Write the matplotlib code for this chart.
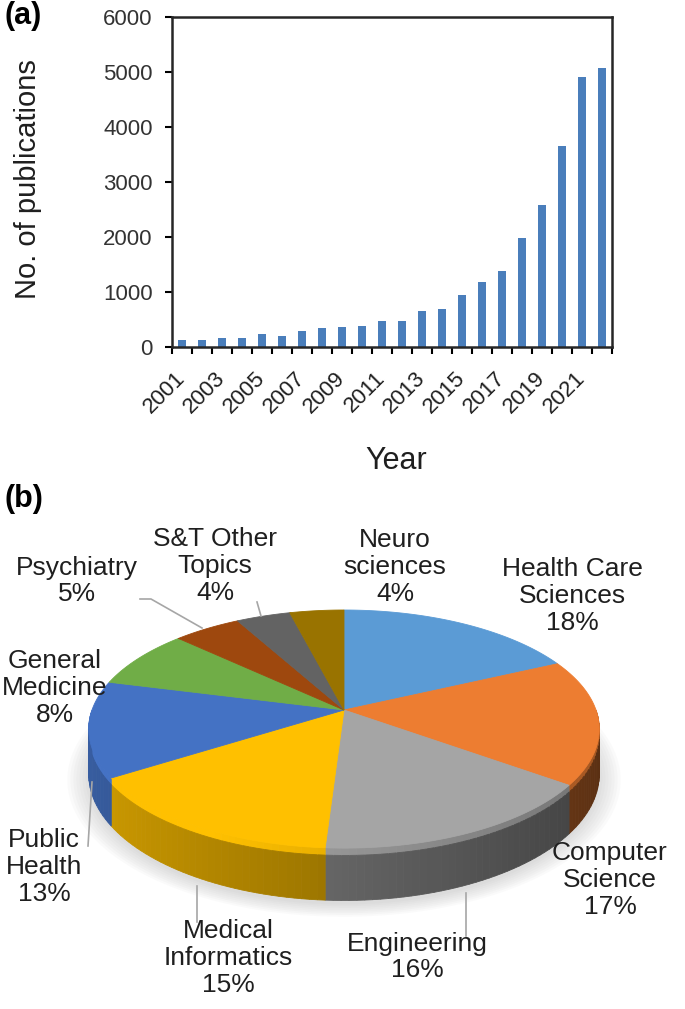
"""
Publications per year (a) and share of research areas (b)
"""
import numpy as np
import matplotlib
matplotlib.use('Agg')
import matplotlib.pyplot as plt
from matplotlib.colors import to_rgb
from matplotlib.patches import Polygon

plt.rcParams['font.family'] = ['Liberation Sans', 'DejaVu Sans']

# ============================================================
# data
# ============================================================
years = list(range(2001, 2023))
pubs = [120, 120, 155, 155, 235, 205, 300, 340, 355, 380, 465, 465,
        650, 700, 945, 1180, 1390, 1985, 2585, 3655, 4905, 5070]

fields = ['Health Care\nSciences', 'Computer\nScience', 'Engineering',
          'Medical\nInformatics', 'Public\nHealth', 'General\nMedicine',
          'Psychiatry', 'S&T Other\nTopics', 'Neuro\nsciences']
shares = [18, 17, 16, 15, 13, 8, 5, 4, 4]
slice_colors = ['#5B9BD5', '#ED7D31', '#A5A5A5', '#FFC000', '#4472C4',
                '#70AD47', '#9E480E', '#636363', '#997300']

W, H = 685, 1009
fig = plt.figure(figsize=(W / 100, H / 100), dpi=100)
txt = '#1f1f1f'
tick_txt = '#333333'

# ============================================================
# (a) bar chart
# ============================================================
ax = fig.add_axes([172 / W, 1 - 347 / H, 440 / W, 330 / H])
x = np.arange(len(years))
ax.bar(x, pubs, width=0.42, color='#4A7EBB')
ax.set_xlim(-0.5, len(years) - 0.5)
ax.set_ylim(0, 6000)
ax.set_yticks(range(0, 6001, 1000))
ax.tick_params(axis='y', length=5, width=1.5, direction='out',
               labelsize=16, labelcolor=tick_txt, pad=9)
ax.set_xticks(np.arange(-0.5, len(years), 1))
ax.tick_params(axis='x', which='major', length=5, width=1.5,
               direction='out', labelbottom=False)
ax.set_xticks(x[::2], labels=[str(y) for y in years[::2]], minor=True)
ax.tick_params(axis='x', which='minor', length=0, labelsize=16,
               labelcolor=txt, pad=20)
for lab in ax.get_xticklabels(minor=True):
    lab.set_rotation(45)
    lab.set_ha('right')
    lab.set_va('center')
    lab.set_rotation_mode('anchor')
for s in ax.spines.values():
    s.set_linewidth(1.8)
    s.set_color('#262626')
ax.set_ylabel('No. of publications', fontsize=21, color=txt)
ax.yaxis.set_label_coords(-0.295, 0.51)
ax.set_xlabel('Year', fontsize=22, color=txt)
ax.xaxis.set_label_coords(0.51, -0.30)
fig.text(4 / W, 1 - 1 / H, '(a)', fontsize=22, fontweight='bold',
         va='top', ha='left')
fig.text(4 / W, 1 - 484 / H, '(b)', fontsize=22, fontweight='bold',
         va='top', ha='left')

# ============================================================
# (b) 3D-look pie, drawn in pixel coordinates
# ============================================================
ax2 = fig.add_axes([0, 0, 1, 529 / H])
ax2.set_xlim(0, W)
ax2.set_ylim(H, 480)
ax2.axis('off')

CX, CY, R, RY, K, TH = 344, 710, 252, 116, 0.16, 44


def proj(t_deg, z=0.0):
    t = np.radians(t_deg)
    u, v = np.cos(t), np.sin(t)
    f = 1 / (1 + K * v)
    return CX + R * u * f, CY - RY * v * f + TH * f * z


# soft shadow under the pie
tt = np.linspace(0, 360, 200)
bx, by = proj(tt, 1.0)
for i in range(8):
    s = 1 + 0.012 * i
    pts = np.column_stack([CX + (bx - CX) * s, CY + TH + 4 + (by - CY - TH) * s])
    ax2.add_patch(Polygon(pts, closed=True, color='#808080', alpha=0.035,
                          lw=0, zorder=1))

frac = np.array(shares) / sum(shares)
bounds = 90 - 360 * np.concatenate([[0], np.cumsum(frac)])

# side walls (front half only)
for i, c in enumerate(slice_colors):
    hi = min(bounds[i], 0)
    lo = max(bounds[i + 1], -180)
    if hi <= lo:
        continue
    base = np.array(to_rgb(c))
    ts = np.linspace(hi, lo, max(2, int((hi - lo) / 1.5) + 1))
    for t1, t2 in zip(ts[:-1], ts[1:]):
        u = np.cos(np.radians((t1 + t2) / 2))
        fac = 0.6 - 0.22 * u
        for z0, z1, ff in [(0, 0.14, min(1.0, fac + 0.3)), (0.14, 1, fac)]:
            col = np.clip(base * ff, 0, 1)
            p1, p2 = proj(t1, z0), proj(t2, z0)
            p3, p4 = proj(t2, z1), proj(t1, z1)
            ax2.add_patch(Polygon([p1, p2, p3, p4], closed=True, fc=col,
                                  ec=col, lw=0.6, zorder=2))

# top surface
for i, c in enumerate(slice_colors):
    ts = np.linspace(bounds[i], bounds[i + 1], 80)
    ax_, ay_ = proj(ts)
    pts = np.vstack([[CX, CY], np.column_stack([ax_, ay_])])
    ax2.add_patch(Polygon(pts, closed=True, fc=c, ec=c, lw=0.6, zorder=3))

# labels
label_pos = [(572, 596), (610, 880), (417, 957), (228, 958), (44, 867),
             (55, 688), (77, 581), (215, 566), (395, 567)]
for name, pct, (lx, ly) in zip(fields, shares, label_pos):
    ax2.text(lx, ly, f'{name}\n{pct}%', ha='center', va='center',
             multialignment='center', fontsize=19, color=txt,
             linespacing=1.15, zorder=5)

# leader lines
lc = '#A6A6A6'
ax2.plot([140, 151, 202], [599, 599, 628], color=lc, lw=1.2, zorder=4)
ax2.plot([257, 261], [602, 616], color=lc, lw=1.2, zorder=4)
ax2.plot([92, 88], [782, 846], color=lc, lw=1.2, zorder=4)
ax2.plot([197, 197], [886, 922], color=lc, lw=1.2, zorder=4)
ax2.plot([466, 466], [893, 936], color=lc, lw=1.2, zorder=4)

plt.savefig('out.png', dpi=100)
plt.close()
